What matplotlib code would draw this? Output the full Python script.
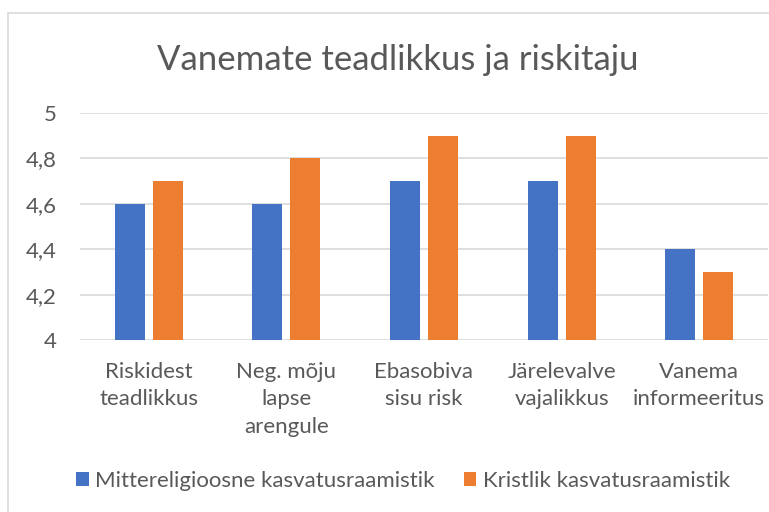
import numpy as np
import matplotlib.pyplot as plt
from matplotlib.patches import Rectangle

plt.rcParams['font.family'] = ['Lato', 'DejaVu Sans']

categories = ['Riskidest\nteadlikkus', 'Neg. mõju\nlapse\narengule', 'Ebasobiva\nsisu risk',
              'Järelevalve\nvajalikkus', 'Vanema\ninformeeritus']
series_names = ['Mittereligioosne kasvatusraamistik', 'Kristlik kasvatusraamistik']
mitterel = [4.6, 4.6, 4.7, 4.7, 4.4]
kristlik = [4.7, 4.8, 4.9, 4.9, 4.3]
yticks = [4, 4.2, 4.4, 4.6, 4.8, 5]
ytick_labels = ['4', '4,2', '4,4', '4,6', '4,8', '5']

text_col = '#595959'
grid_col = '#D9D9D9'
W, H = 769, 512

fig = plt.figure(figsize=(W / 100, H / 100), dpi=100)

# chart frame (cropped on right and bottom like the reference)
fig.patches.append(Rectangle((8 / W, -0.1), 1.2, 1 - 13 / H + 0.1, transform=fig.transFigure,
                             fill=False, edgecolor=grid_col, linewidth=1.2))

ax = fig.add_axes([80 / W, 1 - 340 / H, 688 / W, 227 / H])
x = np.arange(len(categories))
bw = 0.218
ax.bar(x - 0.138, mitterel, bw, color='#4472C4', label=series_names[0], zorder=3)
ax.bar(x + 0.138, kristlik, bw, color='#ED7D31', label=series_names[1], zorder=3)

ax.set_xlim(-0.5, len(categories) - 0.5)
ax.set_ylim(4, 5)
ax.set_yticks(yticks)
ax.set_yticklabels(ytick_labels)
ax.yaxis.grid(True, color=grid_col, linewidth=1.2, zorder=0)
for s in ax.spines.values():
    s.set_visible(False)
ax.tick_params(axis='both', length=0, colors=text_col, labelsize=16)
ax.tick_params(axis='y', pad=17)
ax.set_xticks(x)
ax.set_xticklabels(categories, linespacing=1.45, va='top')
ax.tick_params(axis='x', pad=16)

fig.text(398 / W, 1 - 60 / H, 'Vanemate teadlikkus ja riskitaju', ha='center', va='center',
         fontsize=25, color=text_col)

leg = fig.legend(loc='center', bbox_to_anchor=(403 / W, 1 - 481 / H), ncol=2, frameon=False,
                 fontsize=16, handlelength=0.55, handleheight=0.55, handletextpad=0.3,
                 columnspacing=1.3, labelcolor=text_col)

fig.savefig('out.png', dpi=100)
